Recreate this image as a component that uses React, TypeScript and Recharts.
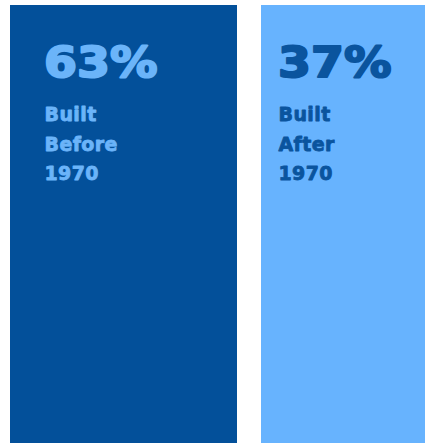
import { BarChart, Bar, XAxis, YAxis, Cell, LabelList } from 'recharts';

// two tiles, both drawn full height in the picture, labelled with their share
const categories = ['Built Before 1970', 'Built After 1970'];
const shares = [63, 37];
const tileValues = [100, 100];

const barColors = ['#03509a', '#67b3fe'];
const textColors = ['#6bb4f9', '#0a549e'];
const textInset = [33, 16];

const data = categories.map((name, i) => ({ name, share: shares[i], tile: tileValues[i] }));

const TileLabel = (props: any) => {
    const { x, y, value } = props;
    const index = props.index ?? 0;
    const left = x + textInset[index];
    const words = categories[index].split(' ');
    const color = textColors[index];
    return (
        <g fontFamily="'DejaVu Sans', sans-serif" fontWeight="bold" fill={color} stroke={color} strokeLinejoin="round">
            <text transform={`translate(${left + 1},${y + 71.5}) scale(1.13,1)`} fontSize={42} strokeWidth={2}>
                {value}%
            </text>
            {words.map((w, k) => (
                <text key={k} x={left + 1.5} y={y + 116 + k * 29.5} fontSize={19} strokeWidth={0.8} letterSpacing={0.4}>
                    {w}
                </text>
            ))}
        </g>
    );
};

const App = () => {
    return (
        <div style={{ position: 'fixed', left: 0, top: 0, width: 425, height: 443, overflow: 'hidden', background: '#fff' }}>
            <div style={{ marginLeft: -2 }}>
                <BarChart width={502} height={470} data={data} margin={{ top: 5, right: 0, bottom: 0, left: 0 }} barCategoryGap={12}>
                    <XAxis dataKey="name" hide />
                    <YAxis hide domain={[0, 100]} />
                    <Bar dataKey="tile" isAnimationActive={false}>
                        {data.map((d, i) => (
                            <Cell key={d.name} fill={barColors[i]} />
                        ))}
                        <LabelList dataKey="share" content={TileLabel} />
                    </Bar>
                </BarChart>
            </div>
        </div>
    );
};

export default App;
